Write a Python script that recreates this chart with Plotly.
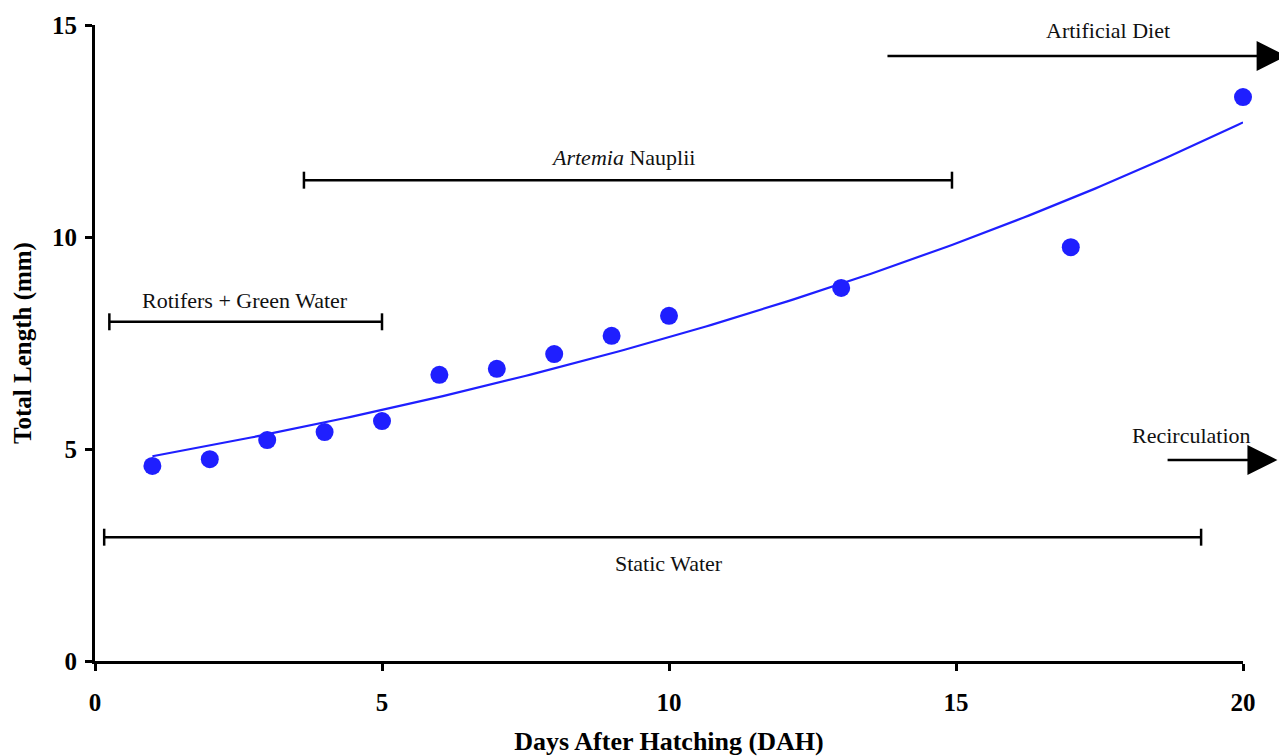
import numpy as np
import plotly.graph_objects as go

# Data
days = [1, 2, 3, 4, 5, 6, 7, 8, 9, 10, 13, 17, 20]
total_length = [4.6, 4.76, 5.21, 5.4, 5.66, 6.75, 6.89, 7.24, 7.67, 8.14, 8.8, 9.76, 13.3]

# Exponential fit parameters: y = a * exp(b * x)
fit_a = 4.59
fit_b = 0.0509
fit_start, fit_end = 1, 20

# Feeding/water regime bars: (label, x_start, x_end, y, label_x, label_y)
brackets = [
    ("Rotifers + Green Water", 0.25, 5.0, 8.0, 2.62, 8.5),
    ("<i>Artemia</i> Nauplii", 3.64, 14.93, 11.34, 9.2, 11.88),
    ("Static Water", 0.16, 19.27, 2.92, 10.0, 2.3),
]
arrows = [
    ("Artificial Diet", 13.78, 20.76, 14.27, 17.65, 14.88),
    ("Recirculation", 18.66, 20.6, 4.74, 19.1, 5.32),
]

x_ticks = [0, 5, 10, 15, 20]
y_ticks = [0, 5, 10, 15]

fit_x = np.linspace(fit_start, fit_end, 200)
fit_y = fit_a * np.exp(fit_b * fit_x)

fig = go.Figure()
fig.add_trace(go.Scatter(x=fit_x, y=fit_y, mode="lines",
                         line=dict(color="#1f1fff", width=2.2), cliponaxis=False,
                         hoverinfo="skip"))
fig.add_trace(go.Scatter(x=days, y=total_length, mode="markers",
                         marker=dict(color="#1f1fff", size=18), cliponaxis=False))

serif = "Liberation Serif"
annotations = []
cap = 0.2
for label, x0, x1, y, lx, ly in brackets:
    fig.add_trace(go.Scatter(x=[x0, x1], y=[y, y], mode="lines",
                             line=dict(color="black", width=2.5), hoverinfo="skip",
                             cliponaxis=False))
    for xc in (x0, x1):
        fig.add_trace(go.Scatter(x=[xc, xc], y=[y - cap, y + cap], mode="lines",
                                 line=dict(color="black", width=2.5), hoverinfo="skip",
                                 cliponaxis=False))
    annotations.append(dict(x=lx, y=ly, text=label, showarrow=False, xref="x", yref="y",
                            font=dict(family=serif, size=22, color="#111")))
for label, x0, x1, y, lx, ly in arrows:
    annotations.append(dict(x=x1, y=y, ax=x0, ay=y, axref="x", ayref="y", xref="x", yref="y",
                            text="", showarrow=True, arrowhead=2, arrowsize=2.4,
                            arrowwidth=2.5, arrowcolor="black"))
    annotations.append(dict(x=lx, y=ly, text=label, showarrow=False, xref="x", yref="y",
                            font=dict(family=serif, size=22, color="#111")))

axis_common = dict(showline=True, linecolor="black", linewidth=3, ticks="outside",
                   ticklen=7, tickwidth=3, tickcolor="black", showgrid=False, zeroline=False,
                   automargin=False,
                   tickfont=dict(family=serif, size=25, color="black", weight="bold"))

fig.update_layout(
    width=1279, height=748,
    margin=dict(l=87, r=44, t=17, b=95),
    paper_bgcolor="white", plot_bgcolor="white",
    showlegend=False,
    annotations=annotations,
    xaxis=dict(range=[0, 20], tickvals=x_ticks, ticklabelstandoff=10, **axis_common,
               title=dict(text="Days After Hatching (DAH)", standoff=22,
                          font=dict(family=serif, size=26, color="black", weight="bold"))),
    yaxis=dict(range=[0, 15], tickvals=y_ticks, ticklabelstandoff=3, **axis_common,
               title=dict(text="Total Length (mm)", standoff=14,
                          font=dict(family=serif, size=25, color="black", weight="bold"))),
)

fig.write_html("out.html")
